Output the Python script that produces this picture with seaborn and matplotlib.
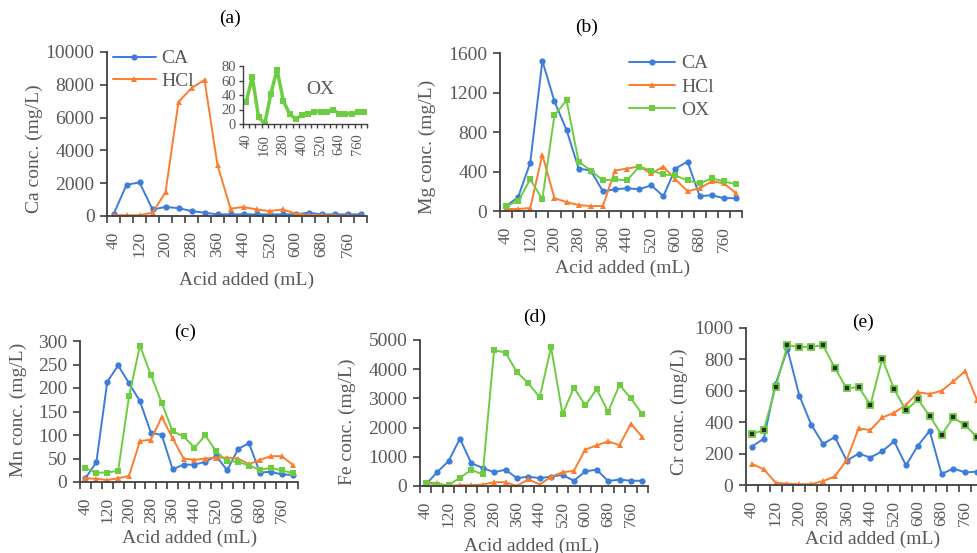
import matplotlib
matplotlib.use("Agg")
import matplotlib.pyplot as plt
import seaborn as sns
import numpy as np

# Acid added (mL) - categorical x axis
acid_ml = [40, 80, 120, 160, 200, 240, 280, 320, 360, 400,
           440, 480, 520, 560, 600, 640, 680, 720, 760, 800]

# (a) Ca conc. (mg/L)
ca_CA = [100, 1900, 2050, 400, 550, 480, 300, 200, 100, 100,
         100, 100, 100, 100, 100, 200, 100, 100, 100, 100]
ca_HCl = [50, 50, 50, 200, 1450, 6950, 7800, 8300, 3100, 450,
          550, 400, 300, 400, 150, 50, 50, 30, 20, 0]
ca_OX = [30, 65, 10, 0, 42, 75, 32, 14, 7, 12,
         14, 17, 17, 17, 20, 14, 14, 14, 17, 17]

# (b) Mg conc. (mg/L)
mg_CA = [50, 140, 490, 1520, 1110, 820, 430, 410, 200, 220,
         230, 220, 260, 150, 430, 500, 150, 160, 130, 130]
mg_HCl = [20, 20, 30, 570, 130, 90, 60, 50, 50, 410,
          430, 450, 380, 450, 320, 200, 230, 300, 280, 180]
mg_OX = [50, 100, 320, 120, 970, 1120, 500, 410, 310, 320,
         310, 450, 410, 370, 360, 310, 280, 330, 300, 270]

# (c) Mn conc. (mg/L)
mn_CA = [8, 42, 213, 248, 210, 172, 105, 100, 27, 37,
         37, 43, 55, 25, 70, 83, 20, 22, 16, 15]
mn_HCl = [8, 7, 4, 8, 13, 87, 90, 138, 93, 50,
          47, 50, 52, 52, 50, 38, 47, 55, 55, 37]
mn_OX = [29, 20, 20, 24, 183, 290, 228, 168, 108, 97,
         73, 99, 65, 44, 43, 35, 26, 30, 25, 19]

# (d) Fe conc. (mg/L)
fe_CA = [50, 470, 850, 1620, 780, 620, 470, 560, 270, 320,
         270, 320, 380, 180, 500, 560, 170, 220, 180, 180]
fe_HCl = [130, 90, 0, 30, 30, 50, 130, 130, 0, 230,
          50, 320, 470, 520, 1250, 1390, 1530, 1400, 2130, 1680]
fe_OX = [100, 50, 30, 280, 550, 400, 4650, 4570, 3900, 3520,
         3040, 4750, 2460, 3370, 2760, 3320, 2540, 3460, 3000, 2460]

# (e) Cr conc. (mg/L)
cr_CA = [245, 295, 645, 865, 570, 385, 262, 305, 155, 200,
         175, 215, 278, 125, 250, 345, 70, 105, 80, 85]
cr_HCl = [135, 100, 15, 8, 5, 5, 25, 55, 160, 360,
          350, 430, 460, 510, 590, 580, 600, 660, 725, 540]
cr_OX = [325, 350, 625, 890, 880, 880, 890, 745, 615, 625,
         510, 805, 610, 475, 545, 440, 320, 430, 380, 305]

BLUE = "#3C7DD9"
ORANGE = "#FB7D2F"
GREEN = "#6DCC3F"
GREY = "#595959"
SPINE = "#404040"

sns.set_theme(style="ticks")
plt.rcParams["font.family"] = ["Liberation Serif", "DejaVu Serif"]

W, H = 977, 553
fig = plt.figure(figsize=(W / 100, H / 100), dpi=100)


def px_axes(x0, y0, x1, y1):
    """Axes from pixel box (left, top, right, bottom)."""
    return fig.add_axes([x0 / W, 1 - y1 / H, (x1 - x0) / W, (y1 - y0) / H])


def fig_text(x, y, s, **kw):
    fig.text(x / W, 1 - y / H, s, ha="center", va="center", **kw)


def style_axes(ax, ymax, ystep, label_every=2, xsize=12.5, ysize=14, xpad=11):
    n = len(acid_ml)
    ax.set_xlim(-0.5, n - 0.5)
    ax.set_ylim(0, ymax)
    ax.set_yticks(np.arange(0, ymax + ystep / 2, ystep))
    ax.set_xticks(np.arange(0, n, label_every))
    ax.set_xticklabels([str(acid_ml[i]) for i in range(0, n, label_every)],
                       rotation=90)
    ax.set_xticks(np.arange(-0.5, n, 1), minor=True)
    ax.tick_params(axis="x", which="major", length=0, pad=xpad,
                   labelsize=xsize, labelcolor=GREY)
    ax.tick_params(axis="x", which="minor", length=5, width=1.2,
                   color=SPINE, direction="out")
    ax.tick_params(axis="y", length=5, width=1.2, color=SPINE, pad=4,
                   labelsize=ysize, labelcolor=GREY)
    for side in ["top", "right"]:
        ax.spines[side].set_visible(False)
    for side in ["left", "bottom"]:
        ax.spines[side].set_color(SPINE)
        ax.spines[side].set_linewidth(1.3)
    ax.set_xlabel("")
    ax.set_ylabel("")


def draw_series(ax, ca, hcl, ox, legend=False, ox_dot=False):
    x = np.arange(len(acid_ml))
    sns.lineplot(x=x, y=ca, ax=ax, color=BLUE, marker="o", markersize=4.5,
                 markeredgewidth=0, linewidth=1.4, label="CA" if legend else None)
    sns.lineplot(x=x, y=hcl, ax=ax, color=ORANGE, marker="^", markersize=5,
                 markeredgewidth=0, linewidth=1.4, label="HCl" if legend else None)
    if ox is not None:
        if ox_dot:
            # squares with a dark centre, as in the Cr panel
            sns.lineplot(x=x, y=ox, ax=ax, color=GREEN, marker="s", markersize=4,
                         markerfacecolor="#2b2b2b", markeredgecolor=GREEN,
                         markeredgewidth=1.3, linewidth=1.4)
        else:
            sns.lineplot(x=x, y=ox, ax=ax, color=GREEN, marker="s", markersize=4.5,
                         markeredgewidth=0, linewidth=1.4,
                         label="OX" if legend else None)


label_kw = dict(fontsize=14, color=GREY)
title_kw = dict(fontsize=14, color="black")

# ---- (a) Ca ----
ax_a = px_axes(107, 52, 367, 216)
draw_series(ax_a, ca_CA, ca_HCl, None, legend=True)
style_axes(ax_a, 10000, 2000)
ax_a.legend(loc="upper left", bbox_to_anchor=(105 / W, 1 - 42 / H),
            bbox_transform=fig.transFigure, frameon=False, fontsize=14,
            handlelength=2.2, handletextpad=0.3, labelspacing=0.25,
            labelcolor=GREY, borderaxespad=0)

ax_in = px_axes(243, 66, 367, 124)
sns.lineplot(x=np.arange(len(acid_ml)), y=ca_OX, ax=ax_in, color=GREEN,
             marker="s", markersize=4.5, markeredgewidth=0, linewidth=2.5)
style_axes(ax_in, 80, 20, label_every=3, xsize=10.5, ysize=10.5, xpad=7)
ax_in.tick_params(axis="x", which="minor", length=3, width=1)
ax_in.tick_params(axis="y", length=3, width=1, pad=2)
for side in ["left", "bottom"]:
    ax_in.spines[side].set_linewidth(1)
ax_in.patch.set_alpha(0)
fig_text(320, 90, "OX", **label_kw)

fig_text(230, 18, "(a)", **title_kw)
fig_text(247, 280, "Acid added (mL)", **label_kw)
fig_text(34, 149, "Ca conc. (mg/L)", rotation=90, **label_kw)

# ---- (b) Mg ----
ax_b = px_axes(500, 53, 742, 211)
draw_series(ax_b, mg_CA, mg_HCl, mg_OX, legend=True)
style_axes(ax_b, 1600, 400)
ax_b.legend(loc="upper left", bbox_to_anchor=(621 / W, 1 - 47 / H),
            bbox_transform=fig.transFigure, frameon=False, fontsize=14,
            handlelength=2.4, handletextpad=0.3, labelspacing=0.3,
            labelcolor=GREY, borderaxespad=0)
fig_text(587, 27, "(b)", **title_kw)
fig_text(623, 268, "Acid added (mL)", **label_kw)
fig_text(427, 147, "Mg conc. (mg/L)", rotation=90, **label_kw)

# ---- (c) Mn ----
ax_c = px_axes(80, 341, 298, 482)
draw_series(ax_c, mn_CA, mn_HCl, mn_OX)
style_axes(ax_c, 300, 50)
fig_text(185, 332, "(c)", **title_kw)
fig_text(190, 538, "Acid added (mL)", **label_kw)
fig_text(18, 410, "Mn conc. (mg/L)", rotation=90, **label_kw)

# ---- (d) Fe ----
ax_d = px_axes(420, 340, 648, 486)
draw_series(ax_d, fe_CA, fe_HCl, fe_OX)
style_axes(ax_d, 5000, 1000)
fig_text(535, 317, "(d)", **title_kw)
fig_text(532, 546, "Acid added (mL)", **label_kw)
fig_text(347, 422, "Fe conc. (mg/L)", rotation=90, **label_kw)

# ---- (e) Cr ----
ax_e = px_axes(746, 328, 983, 485)
draw_series(ax_e, cr_CA, cr_HCl, cr_OX, ox_dot=True)
style_axes(ax_e, 1000, 200)
fig_text(863, 322, "(e)", **title_kw)
fig_text(873, 539, "Acid added (mL)", **label_kw)
fig_text(679, 412, "Cr conc. (mg/L)", rotation=90, **label_kw)

fig.savefig("out.png", dpi=100)
plt.close(fig)
